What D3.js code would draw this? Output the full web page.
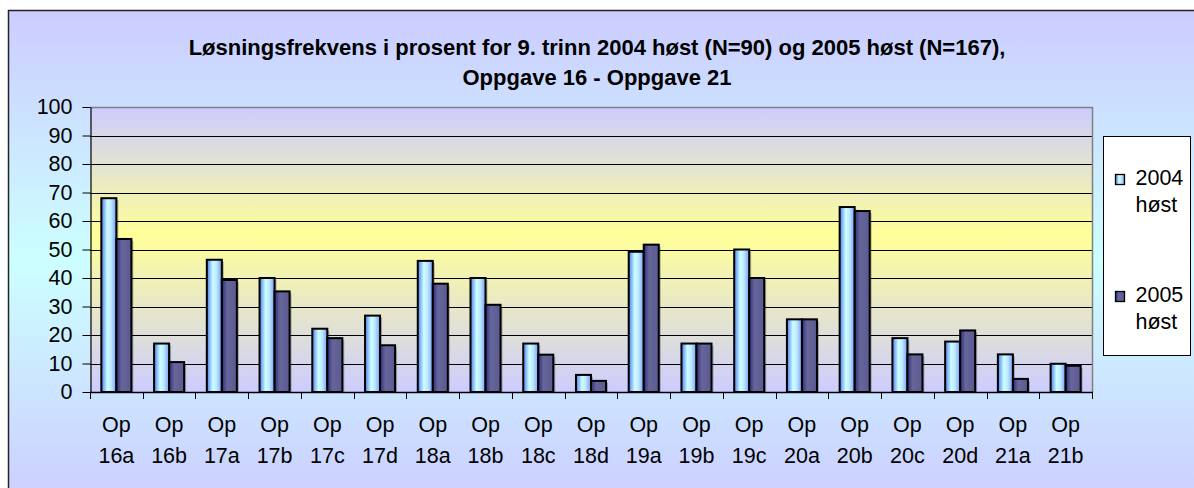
<!DOCTYPE html>
<html>
<head>
<meta charset="utf-8">
<script src="https://cdn.jsdelivr.net/npm/d3@7"></script>
<style>
  html, body { margin: 0; padding: 0; background: #fff; }
  svg { display: block; font-family: "Liberation Sans", Arial, sans-serif; }
</style>
</head>
<body>
<svg id="chart" width="1194" height="488"></svg>
<script>
// Task categories (two-line labels)
const categories = ["16a","16b","17a","17b","17c","17d","18a","18b","18c","18d",
                    "19a","19b","19c","20a","20b","20c","20d","21a","21b"];
// Solution rate in percent per task
const host2004 = [68, 17, 46.4, 40, 22.2, 26.8, 46, 40, 17, 6, 49.2, 17, 50, 25.5, 64.9, 18.9, 17.7, 13.2, 9.9];
const host2005 = [53.7, 10.5, 39.3, 35.3, 18.9, 16.4, 38, 30.6, 13.1, 3.9, 51.7, 17, 40, 25.5, 63.5, 13.2, 21.6, 4.6, 9.2];
const seriesNames = ["2004 høst", "2005 høst"];
const yTicks = [0, 10, 20, 30, 40, 50, 60, 70, 80, 90, 100];
const titleLines = ["Løsningsfrekvens i prosent for 9. trinn 2004 høst (N=90) og 2005 høst (N=167),",
                    "Oppgave 16 - Oppgave 21"];

const svg = d3.select("#chart");
const defs = svg.append("defs");

// Chart area background: lavender -> pale cyan -> lavender
const bgGrad = defs.append("linearGradient").attr("id", "bgGrad")
  .attr("x1", 0).attr("y1", 0).attr("x2", 0).attr("y2", 1);
bgGrad.append("stop").attr("offset", "0%").attr("stop-color", "#ccccff");
bgGrad.append("stop").attr("offset", "50%").attr("stop-color", "#ccffff");
bgGrad.append("stop").attr("offset", "100%").attr("stop-color", "#ccccff");

// Plot area background: lavender -> yellow -> lavender
const plotGrad = defs.append("linearGradient").attr("id", "plotGrad")
  .attr("x1", 0).attr("y1", 0).attr("x2", 0).attr("y2", 1);
plotGrad.append("stop").attr("offset", "0%").attr("stop-color", "#ccccff");
plotGrad.append("stop").attr("offset", "45%").attr("stop-color", "#ffff99");
plotGrad.append("stop").attr("offset", "100%").attr("stop-color", "#ccccff");

// Bar fills: horizontal cylinder-like shading
const g1 = defs.append("linearGradient").attr("id", "bar0")
  .attr("x1", 0).attr("y1", 0).attr("x2", 1).attr("y2", 0);
g1.append("stop").attr("offset", "0%").attr("stop-color", "#4a7cee");
g1.append("stop").attr("offset", "40%").attr("stop-color", "#ccffff");
g1.append("stop").attr("offset", "65%").attr("stop-color", "#bfe8ff");
g1.append("stop").attr("offset", "100%").attr("stop-color", "#739ff5");

const g2 = defs.append("linearGradient").attr("id", "bar1")
  .attr("x1", 0).attr("y1", 0).attr("x2", 1).attr("y2", 0);
g2.append("stop").attr("offset", "0%").attr("stop-color", "#2d2d80");
g2.append("stop").attr("offset", "35%").attr("stop-color", "#66669a");
g2.append("stop").attr("offset", "100%").attr("stop-color", "#5a5a92");

// Outer chart frame
svg.append("rect")
  .attr("x", 8.5).attr("y", 10.5).attr("width", 1200).attr("height", 500)
  .attr("fill", "url(#bgGrad)").attr("stroke", "#222").attr("stroke-width", 1.5);

// Title
const title = svg.append("text").attr("text-anchor", "middle")
  .attr("font-weight", "bold").attr("font-size", 22).attr("fill", "#000");
titleLines.forEach((t, i) => {
  title.append("tspan").attr("x", 597).attr("y", 54.5 + i * 30.5).text(t);
});

// Plot geometry
const plotL = 90, plotR = 1092, plotT = 107, plotB = 392;

const x0 = d3.scaleBand().domain(categories).range([plotL, plotR]).paddingInner(0).paddingOuter(0);
const x1 = d3.scaleBand().domain([0, 1]).range([0, x0.bandwidth()]).paddingInner(0).paddingOuter(0.755);
const y = d3.scaleLinear().domain([0, 100]).range([plotB, plotT]);

// Plot background
svg.append("rect")
  .attr("x", plotL).attr("y", plotT).attr("width", plotR - plotL).attr("height", plotB - plotT)
  .attr("fill", "url(#plotGrad)");

// Gridlines
svg.append("g").selectAll("line")
  .data(yTicks.filter(d => d > 0 && d < 100))
  .join("line")
  .attr("x1", plotL).attr("x2", plotR)
  .attr("y1", d => Math.round(y(d)) + 0.5).attr("y2", d => Math.round(y(d)) + 0.5)
  .attr("stroke", "#000").attr("stroke-width", 1);

// Plot area border (top and right, grey)
svg.append("path")
  .attr("d", `M${plotL},${plotT + 0.5}H${plotR + 0.5}V${plotB}`)
  .attr("fill", "none").attr("stroke", "#808080").attr("stroke-width", 1.5);

// Bars
const series = [host2004, host2005];
const barGroups = svg.append("g");
series.forEach((vals, si) => {
  const g = barGroups.append("g");
  // soft drop shadow
  g.selectAll("rect.shadow")
    .data(vals)
    .join("rect")
    .attr("class", "shadow")
    .attr("x", (d, i) => x0(categories[i]) + x1(si) + 2)
    .attr("y", d => y(d) + 2)
    .attr("width", x1.bandwidth())
    .attr("height", d => plotB - y(d) - 2)
    .attr("fill", "#000").attr("opacity", 0.25);
  g.selectAll("rect.bar")
    .data(vals)
    .join("rect")
    .attr("class", "bar")
    .attr("x", (d, i) => x0(categories[i]) + x1(si))
    .attr("y", d => y(d))
    .attr("width", x1.bandwidth())
    .attr("height", d => plotB - y(d))
    .attr("fill", `url(#bar${si})`)
    .attr("stroke", "#000").attr("stroke-width", 2);
});

// Y axis
const yAxis = d3.axisLeft(y).tickValues(yTicks).tickSize(8).tickPadding(10).tickSizeOuter(0);
const gy = svg.append("g").attr("transform", `translate(${plotL + 0.5},0)`).call(yAxis);
gy.select(".domain").attr("stroke", "#000").attr("stroke-width", 1.2);
gy.selectAll(".tick line").attr("stroke", "#000");
gy.selectAll(".tick text").attr("font-size", 21.5).attr("fill", "#000")
  .attr("font-family", "Liberation Sans, Arial, sans-serif");

// X axis: tick marks at category boundaries
const boundaries = categories.map(c => x0(c)).concat([plotR]);
svg.append("line")
  .attr("x1", plotL).attr("x2", plotR + 1).attr("y1", plotB + 0.5).attr("y2", plotB + 0.5)
  .attr("stroke", "#000").attr("stroke-width", 1.5);
svg.append("g").selectAll("line")
  .data(boundaries)
  .join("line")
  .attr("x1", d => Math.round(d) + 0.5).attr("x2", d => Math.round(d) + 0.5)
  .attr("y1", plotB).attr("y2", plotB + 7)
  .attr("stroke", "#000").attr("stroke-width", 1);

const xl = svg.append("g").selectAll("text")
  .data(categories)
  .join("text")
  .attr("text-anchor", "middle")
  .attr("font-size", 21.5).attr("fill", "#000");
xl.append("tspan").attr("x", d => x0(d) + x0.bandwidth() / 2).attr("y", 432).text("Op");
xl.append("tspan").attr("x", d => x0(d) + x0.bandwidth() / 2).attr("y", 463).text(d => d);

// Legend
const lg = svg.append("g");
lg.append("rect")
  .attr("x", 1103.5).attr("y", 136.5).attr("width", 87).attr("height", 219)
  .attr("fill", "#fff").attr("stroke", "#000").attr("stroke-width", 1);
seriesNames.forEach((name, i) => {
  const yy = 185 + i * 117;
  lg.append("rect")
    .attr("x", 1115.5).attr("y", yy - 10.5).attr("width", 9).attr("height", 10)
    .attr("fill", `url(#bar${i})`).attr("stroke", "#000").attr("stroke-width", 1.3);
  const parts = name.split(" ");
  const t = lg.append("text").attr("font-size", 21.5).attr("fill", "#000");
  t.append("tspan").attr("x", 1135.5).attr("y", yy).text(parts[0]);
  t.append("tspan").attr("x", 1135.5).attr("y", yy + 27).text(parts[1]);
});
</script>
</body>
</html>
